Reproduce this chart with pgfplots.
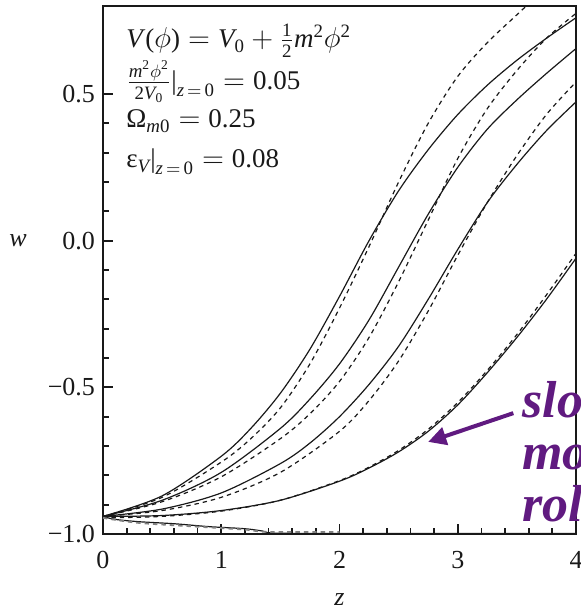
\documentclass[border=0pt]{standalone}
\usepackage{amsmath}
\usepackage{fontspec}
\setmainfont{Liberation Serif}
\usepackage{pgfplots}
\pgfplotsset{compat=1.18}
\usetikzlibrary{arrows.meta}
\definecolor{roll}{RGB}{96,26,128}
\definecolor{ink}{RGB}{25,25,25}
\newcommand{\mi}[1]{\textit{#1}}
\newcommand{\up}[1]{\text{#1}}
\pgfplotsset{
  sol/.style={ink, line width=0.6pt, smooth, no markers},
  dsh/.style={ink, line width=0.6pt, smooth, no markers, dash pattern=on 2.2pt off 2pt},
}
\begin{document}
\begin{tikzpicture}
\begin{axis}[
  scale only axis,
  width=236.5pt, height=264pt,
  xmin=0, xmax=4, ymin=-1.0, ymax=0.8,
  xtick={0,1,2,3,4},
  ytick={-1,-0.5,0,0.5},
  yticklabels={−1.0,−0.5,0.0,0.5},
  minor x tick num=4, minor y tick num=4,
  tick align=inside, xtick pos=left, ytick pos=left,
  major tick length=5pt, minor tick length=3pt,
  every tick/.style={ink, line width=0.9pt},
  axis line style={ink, line width=1.1pt},
  /pgf/number format/assume math mode=true,
  ticklabel style={font=\fontsize{13}{15}\selectfont, ink},
  xticklabel style={yshift=-5pt},
  yticklabel style={xshift=-0.5pt},
  xlabel={\mi{z}}, ylabel={\mi{w}},
  label style={font=\fontsize{13}{15}\selectfont, ink},
  xlabel style={at={(axis description cs:0.5,0)}, anchor=center, yshift=-33pt},
  ylabel style={rotate=-90, at={(axis description cs:0,0.556)}, anchor=center, xshift=-42.5pt},
  clip=false,
]
% solid: numerical, dashed: approximation
\addplot[sol] coordinates {(0,-0.94) (0.5,-0.87) (1.0,-0.735) (1.25,-0.64) (1.5,-0.52) (1.75,-0.37) (2.0,-0.19) (2.25,0.0) (2.5,0.17) (2.75,0.31) (3.0,0.43) (3.25,0.53) (3.5,0.615) (3.75,0.69) (4.0,0.76)};
\addplot[dsh] coordinates {(0,-0.94) (0.5,-0.875) (1.0,-0.755) (1.25,-0.675) (1.5,-0.57) (1.75,-0.42) (2.0,-0.23) (2.25,-0.02) (2.5,0.2) (2.75,0.4) (3.0,0.56) (3.25,0.675) (3.5,0.77) (3.58,0.8)};
\addplot[sol] coordinates {(0,-0.94) (0.5,-0.885) (1.0,-0.79) (1.5,-0.64) (1.75,-0.54) (2.0,-0.42) (2.25,-0.27) (2.5,-0.09) (2.75,0.09) (3.0,0.25) (3.25,0.38) (3.5,0.48) (3.75,0.57) (4.0,0.655)};
\addplot[dsh] coordinates {(0,-0.94) (0.5,-0.89) (1.0,-0.805) (1.5,-0.675) (1.75,-0.59) (2.0,-0.48) (2.25,-0.33) (2.5,-0.14) (2.75,0.07) (3.0,0.28) (3.25,0.45) (3.5,0.58) (3.75,0.69) (4.0,0.775)};
\addplot[sol] coordinates {(0,-0.94) (0.5,-0.915) (1.0,-0.86) (1.5,-0.76) (1.75,-0.69) (2.0,-0.6) (2.25,-0.49) (2.5,-0.36) (2.75,-0.2) (3.0,-0.03) (3.25,0.13) (3.5,0.26) (3.75,0.375) (4.0,0.473)};
\addplot[dsh] coordinates {(0,-0.94) (0.5,-0.92) (1.0,-0.875) (1.5,-0.79) (2.0,-0.65) (2.25,-0.545) (2.5,-0.41) (2.75,-0.24) (3.0,-0.05) (3.25,0.13) (3.5,0.29) (3.75,0.43) (4.0,0.541)};
\addplot[sol] coordinates {(0,-0.94) (0.5,-0.937) (1.0,-0.92) (1.5,-0.885) (2.0,-0.82) (2.25,-0.775) (2.5,-0.72) (2.75,-0.65) (3.0,-0.56) (3.25,-0.45) (3.5,-0.33) (3.75,-0.2) (4.0,-0.06)};
\addplot[dsh] coordinates {(0,-0.945) (0.5,-0.94) (1.0,-0.922) (1.5,-0.885) (2.0,-0.818) (2.25,-0.772) (2.5,-0.715) (2.75,-0.643) (3.0,-0.552) (3.25,-0.442) (3.5,-0.32) (3.75,-0.185) (4.0,-0.043)};
\addplot[sol] coordinates {(0,-0.94) (0.1,-0.95) (0.3,-0.958) (0.6,-0.965) (0.9,-0.975) (1.2,-0.982) (1.35,-0.99) (1.45,-0.997) (2.0,-0.998) (4.0,-0.998)};
\addplot[dsh, gray, line width=0.9pt] coordinates {(0,-0.945) (0.3,-0.962) (0.8,-0.975) (1.2,-0.985) (1.4,-0.993) (2.0,-0.993)};
\coordinate (tip) at (axis cs:2.75,-0.686);
\coordinate (tail) at (axis cs:3.47,-0.588);
\end{axis}
\begin{scope}[every node/.style={anchor=base west, inner sep=0pt, font=\fontsize{13.5}{16}\selectfont, text=ink}]
\node at ([xshift=11.5pt,yshift=-21pt]current axis.north west) {$\up{\mi{V}(}\phi\up{)} = \mi{V}_{\up{0}} + \tfrac{\up{1}}{\up{2}}\mi{m}^{\up{2}}\phi^{\up{2}}$};
\node at ([xshift=11.5pt,yshift=-42pt]current axis.north west) {$\tfrac{\mi{m}^{\up{2}}\phi^{\up{2}}}{\up{2}\mi{V}_{\up{0}}}\up{|}_{\mi{z}\mkern3mu=\mkern3mu\up{0}} = \up{0.05}$};
\node at ([xshift=11.5pt,yshift=-61pt]current axis.north west) {$\up{Ω}_{\mi{m}\up{0}} = \up{0.25}$};
\node at ([xshift=11.5pt,yshift=-81pt]current axis.north west) {$\up{ε}_{\mi{V}}\up{|}_{\mi{z}\mkern3mu=\mkern3mu\up{0}} = \up{0.08}$};
\end{scope}
\draw[roll, line width=2pt, -{Triangle[length=9pt, width=9pt]}] (tail) -- (tip);
\begin{scope}[every node/.style={anchor=base west, inner sep=0pt, font=\fontsize{26}{28}\selectfont\bfseries\itshape, text=roll}]
\node at ([xshift=209.5pt,yshift=58pt]current axis.south west) {slow};
\node at ([xshift=209.5pt,yshift=32pt]current axis.south west) {moving};
\node at ([xshift=209.5pt,yshift=6pt]current axis.south west) {roll};
\end{scope}
\pgfresetboundingbox
\useasboundingbox ([xshift=-51.5pt,yshift=-38pt]current axis.south west) rectangle ([xshift=2.5pt,yshift=3pt]current axis.north east);
\end{tikzpicture}
\end{document}
